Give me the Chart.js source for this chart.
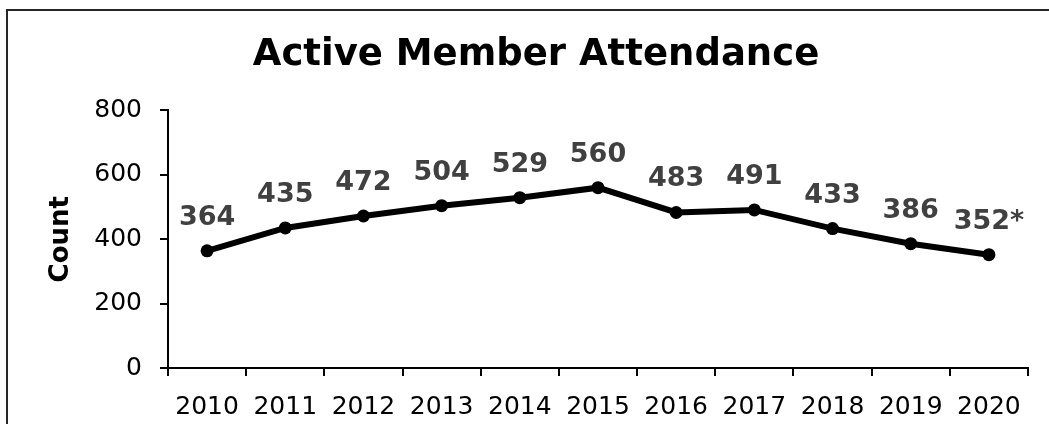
<!DOCTYPE html>
<html>
<head>
<meta charset="utf-8">
<script src="https://cdn.jsdelivr.net/npm/chart.js@4/dist/chart.umd.min.js"></script>
<style>
  html, body { margin: 0; padding: 0; background: #fff; overflow: hidden; }
  #wrap { position: relative; width: 1049px; height: 424px; }
  #frame {
    position: absolute; left: 6px; top: 9px;
    width: 1100px; height: 500px;
    border: 2px solid #262626; box-sizing: border-box;
  }
  #chart { position: absolute; left: 0; top: 0; }
</style>
</head>
<body>
<div id="wrap">
  <div id="frame"></div>
  <canvas id="chart" width="1049" height="424"></canvas>
</div>
<script>
const years = ['2010', '2011', '2012', '2013', '2014', '2015', '2016', '2017', '2018', '2019', '2020'];
const attendance = [364, 435, 472, 504, 529, 560, 483, 491, 433, 386, 352];
const labelNotes = ['', '', '', '', '', '', '', '', '', '', '*'];
const yTicks = [0, 200, 400, 600, 800];

const FONT = "'DejaVu Sans', Verdana, sans-serif";

// value labels above each point
const pointLabels = {
  id: 'pointLabels',
  afterDatasetsDraw(chart) {
    const ctx = chart.ctx;
    const meta = chart.getDatasetMeta(0);
    ctx.save();
    ctx.font = `bold 27px ${FONT}`;
    ctx.fillStyle = '#404040';
    ctx.textAlign = 'center';
    ctx.textBaseline = 'middle';
    meta.data.forEach((pt, i) => {
      ctx.fillText(attendance[i] + labelNotes[i], pt.x, pt.y - 33);
    });
    ctx.restore();
  }
};

const ctx = document.getElementById('chart').getContext('2d');
new Chart(ctx, {
  type: 'line',
  data: {
    labels: years,
    datasets: [{
      label: 'Count',
      data: attendance,
      borderColor: '#000',
      borderWidth: 6,
      tension: 0,
      pointRadius: 6.5,
      pointBackgroundColor: '#000',
      pointBorderWidth: 0,
      fill: false
    }]
  },
  options: {
    responsive: false,
    devicePixelRatio: 1,
    animation: false,
    layout: {
      padding: { top: 10, left: 44, right: 21, bottom: 4 }
    },
    plugins: {
      legend: { display: false },
      tooltip: { enabled: false },
      title: {
        display: true,
        text: 'Active Member Attendance',
        color: '#000',
        font: { family: FONT, size: 37, weight: 'bold' },
        padding: { top: 23, bottom: 33 }
      }
    },
    scales: {
      x: {
        offset: true,
        afterFit(scale) { scale.height = 52; },
        grid: {
          offset: true,
          drawOnChartArea: false,
          drawTicks: true,
          tickLength: 8,
          color: '#000',
          lineWidth: 2
        },
        border: { display: true, color: '#000', width: 2 },
        ticks: {
          color: '#000',
          padding: 16,
          maxRotation: 0,
          autoSkip: false,
          font: { family: FONT, size: 25 }
        }
      },
      y: {
        min: yTicks[0],
        max: yTicks[yTicks.length - 1],
        afterFit(scale) { scale.width = 124; },
        afterBuildTicks(scale) { scale.ticks = yTicks.map(v => ({ value: v })); },
        grid: {
          drawOnChartArea: false,
          drawTicks: true,
          tickLength: 8,
          color: '#000',
          lineWidth: 2
        },
        border: { display: true, color: '#000', width: 2 },
        ticks: {
          color: '#000',
          padding: 18,
          font: { family: FONT, size: 25 }
        },
        title: {
          display: true,
          text: 'Count',
          color: '#000',
          padding: { top: 2, bottom: 0 },
          font: { family: FONT, size: 26, weight: 'bold' }
        }
      }
    }
  },
  plugins: [pointLabels]
});
</script>
</body>
</html>
